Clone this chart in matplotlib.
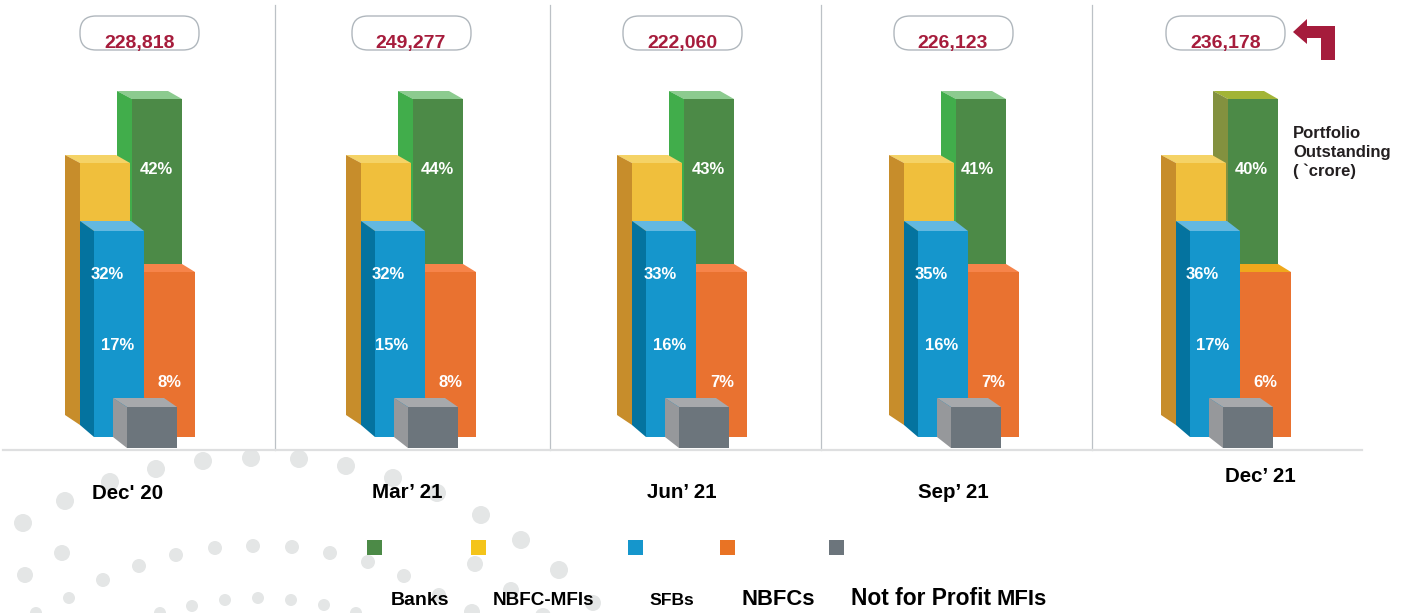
# -*- coding: utf-8 -*-
"""Portfolio share by lender type, five quarters, as pseudo-3D stacked blocks."""

import matplotlib

matplotlib.use("Agg")
import matplotlib.pyplot as plt
from matplotlib.patches import Circle, FancyBboxPatch, Polygon, Rectangle

quarters = ["Dec' 20", "Mar\u2019 21", "Jun\u2019 21", "Sep\u2019 21", "Dec\u2019 21"]
totals = ["228,818", "249,277", "222,060", "226,123", "236,178"]
banks = [42, 44, 43, 41, 40]
nbfc_mfis = [32, 32, 33, 35, 36]
sfbs = [17, 15, 16, 16, 17]
nbfcs = [8, 8, 7, 7, 6]
legend_names = ["Banks", "NBFC-MFIs", "SFBs", "NBFCs", "Not for Profit", "MFIs"]

# layout, in image pixels
BAR_SHIFT = [0, 281, 552, 824, 1096]
PILL_LEFT = [80, 352, 623, 894, 1166]
TOTAL_X = [140, 411, 682, 953, 1226]
DATE_POS = [(128, 499), (407, 498), (682, 498), (953, 498), (1260, 482)]
DIVIDERS = [275, 550, 821, 1092]
LABEL_X = {
    "banks": [156, 437, 708, 977, 1251],
    "mfi": [107, 388, 660, 931, 1202],
    "sfb": [118, 392, 670, 942, 1213],
    "nbfc": [170, 451, 722, 993, 1265],
}
SWATCHES = [(367, "#4C8A47"), (471, "#F4C41A"), (628, "#1596CC"), (720, "#E97324"), (829, "#6C757C")]
LEGEND_TEXT = [(391, 14), (493, 13.6), (649, 12.6), (742, 15.8), (851, 16.4), (997, 15.8)]

DOTS_BIG = [(23, 523), (65, 501), (110, 482), (156, 469), (203, 461), (251, 458), (299, 459),
            (346, 466), (393, 478), (437, 493), (481, 515), (521, 540), (559, 570)]
DOTS_MID = [(25, 575), (62, 553), (475, 564), (511, 590), (593, 603), (472, 612), (543, 616)]
DOTS_SMALL = [(103, 580), (139, 566), (176, 555), (215, 548), (253, 546), (292, 547), (330, 553),
              (368, 562), (404, 576), (439, 595)]
DOTS_TINY = [(36, 613), (69, 598), (160, 613), (192, 606), (225, 600), (258, 598), (291, 600),
             (324, 605), (356, 613)]


def block(ax, dx, left, right, top, bottom, depth, rise, side_bottom, colors):
    """Front, side and top face of one block."""
    front, side, lid = colors
    x0, x1 = left + dx, right + dx
    ax.add_patch(Polygon([(x0 - depth, top - rise), (x1 - depth + 1, top - rise), (x1, top), (x0, top)],
                         closed=True, fc=lid, ec="none"))
    ax.add_patch(Polygon([(x0 - depth, top - rise), (x0, top), (x0, bottom), (x0 - depth, side_bottom)],
                         closed=True, fc=side, ec="none"))
    ax.add_patch(Rectangle((x0, top), x1 - x0, bottom - top, fc=front, ec="none"))


def main():
    plt.rcParams["font.family"] = ["Liberation Sans", "DejaVu Sans"]
    fig = plt.figure(figsize=(14.25, 6.13), dpi=100, facecolor="white")
    ax = fig.add_axes([0, 0, 1, 1])
    ax.set_xlim(0, 1425)
    ax.set_ylim(613, 0)
    ax.axis("off")

    for dots, radius in [(DOTS_BIG, 9), (DOTS_MID, 8), (DOTS_SMALL, 7), (DOTS_TINY, 6)]:
        for x, y in dots:
            ax.add_patch(Circle((x, y), radius, fc="#E4E6E6", ec="none"))

    for x in DIVIDERS:
        ax.plot([x, x], [5, 450], color="#BCC1C6", lw=0.9)
    ax.plot([3, 1362], [450, 450], color="#DEDFE0", lw=1.6)

    for i in range(len(quarters)):
        dx = BAR_SHIFT[i]
        last = i == len(quarters) - 1
        green_side = "#83913F" if last else "#41AD4B"
        green_lid = "#A2B436" if last else "#8CCB8F"
        orange_lid = "#EFA81C" if last else "#F6844A"

        block(ax, dx, 132, 182, 99, 272, 15, 8, 272, ("#4C8A47", green_side, green_lid))
        block(ax, dx, 80, 130, 163, 425, 15, 8, 415, ("#F0BF3C", "#C78D2B", "#F5D366"))
        block(ax, dx, 94, 144, 231, 437, 14, 10, 425, ("#1596CC", "#04739F", "#63B8E0"))
        # orange has no side face showing, it starts at the blue block
        ax.add_patch(Polygon([(144 + dx, 264), (182 + dx, 264), (195 + dx, 272), (144 + dx, 272)],
                             closed=True, fc=orange_lid, ec="none"))
        ax.add_patch(Rectangle((144 + dx, 272), 51, 165, fc="#E97230", ec="none"))
        block(ax, dx, 127, 177, 407, 448, 14, 9, 437, ("#6C757C", "#96989B", "#A7A9AC"))

        for key, values, base in [("banks", banks, 174), ("mfi", nbfc_mfis, 279),
                                  ("sfb", sfbs, 350), ("nbfc", nbfcs, 387)]:
            ax.text(LABEL_X[key][i], base, f"{values[i]}%", color="white", fontsize=12,
                    fontweight="bold", ha="center", va="baseline")

        ax.add_patch(FancyBboxPatch((PILL_LEFT[i] + 16, 32), 87, 2,
                                    boxstyle="round,pad=16,rounding_size=16",
                                    fc="none", ec="#B0B7BD", lw=1.0))
        ax.text(TOTAL_X[i], 48, totals[i], color="#A61C3C", fontsize=14, fontweight="bold",
                ha="center", va="baseline")
        ax.text(DATE_POS[i][0], DATE_POS[i][1], quarters[i], color="black", fontsize=14.8,
                fontweight="bold", ha="center", va="baseline")

    ax.add_patch(Polygon([(1293, 32), (1307, 19), (1307, 26), (1335, 26), (1335, 60), (1321, 60),
                          (1321, 38), (1307, 38), (1307, 44)], closed=True, fc="#A51C3C", ec="none"))

    for text, base in [("Portfolio", 138), ("Outstanding", 157), ("( `crore)", 176)]:
        ax.text(1293, base, text, color="#231F20", fontsize=12, fontweight="bold",
                ha="left", va="baseline")

    for x, color in SWATCHES:
        ax.add_patch(Rectangle((x, 540), 15, 15, fc=color, ec="none"))
    for name, (x, size) in zip(legend_names, LEGEND_TEXT):
        ax.text(x, 605, name, color="black", fontsize=size, fontweight="bold",
                ha="left", va="baseline")

    fig.savefig("out.png", dpi=100, facecolor="white")


if __name__ == "__main__":
    main()
